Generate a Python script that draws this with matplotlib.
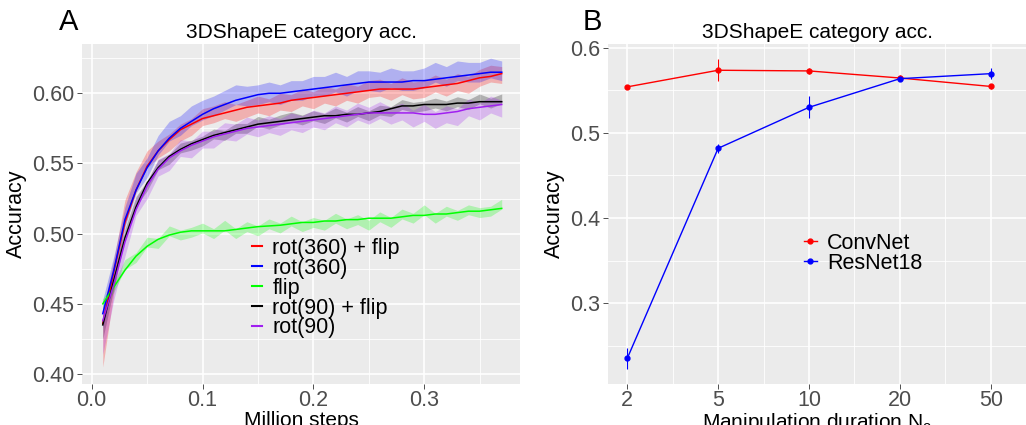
import numpy as np
import matplotlib
matplotlib.use('Agg')
import matplotlib.pyplot as plt
from matplotlib.lines import Line2D

# ---- panel A data: training curves (raw means, se, smooth fit) ----
steps = [0.01, 0.02, 0.03, 0.04, 0.05, 0.06, 0.07, 0.08, 0.09, 0.10,
         0.11, 0.12, 0.13, 0.14, 0.15, 0.16, 0.17, 0.18, 0.19, 0.20,
         0.21, 0.22, 0.23, 0.24, 0.25, 0.26, 0.27, 0.28, 0.29, 0.30,
         0.31, 0.32, 0.33, 0.34, 0.35, 0.36, 0.37]

rot360flip_mean = [0.425, 0.470, 0.515, 0.537, 0.553, 0.560, 0.565, 0.572, 0.576, 0.583,
                   0.585, 0.588, 0.586, 0.589, 0.592, 0.590, 0.594, 0.593, 0.597, 0.595,
                   0.599, 0.597, 0.601, 0.599, 0.603, 0.604, 0.601, 0.605, 0.602, 0.603,
                   0.607, 0.604, 0.608, 0.606, 0.611, 0.614, 0.613]
rot360flip_se = [0.020, 0.012, 0.009, 0.007] + [0.006] * 33
rot360flip_fit = [0.436, 0.473, 0.508, 0.531, 0.548, 0.559, 0.567, 0.574, 0.578, 0.582,
                  0.584, 0.586, 0.588, 0.590, 0.591, 0.592, 0.593, 0.595, 0.596, 0.597,
                  0.598, 0.599, 0.600, 0.601, 0.602, 0.603, 0.603, 0.603, 0.603, 0.604,
                  0.605, 0.606, 0.607, 0.609, 0.611, 0.612, 0.614]

rot360_mean = [0.443, 0.475, 0.512, 0.536, 0.547, 0.563, 0.573, 0.577, 0.584, 0.588,
               0.591, 0.595, 0.599, 0.598, 0.599, 0.601, 0.599, 0.602, 0.602, 0.605,
               0.605, 0.608, 0.605, 0.609, 0.609, 0.608, 0.611, 0.609, 0.609, 0.611,
               0.615, 0.612, 0.616, 0.615, 0.615, 0.618, 0.616]
rot360_se = [0.010, 0.009] + [0.007] * 35
rot360_fit = [0.443, 0.474, 0.510, 0.531, 0.547, 0.559, 0.568, 0.575, 0.580, 0.585,
              0.589, 0.592, 0.595, 0.597, 0.599, 0.600, 0.600, 0.601, 0.602, 0.603,
              0.604, 0.605, 0.606, 0.607, 0.608, 0.608, 0.608, 0.608, 0.609, 0.609,
              0.610, 0.611, 0.612, 0.613, 0.614, 0.615, 0.615]

flip_mean = [0.450, 0.462, 0.478, 0.483, 0.494, 0.493, 0.502, 0.499, 0.501, 0.504,
             0.500, 0.506, 0.500, 0.505, 0.502, 0.507, 0.504, 0.509, 0.505, 0.508,
             0.506, 0.511, 0.507, 0.510, 0.506, 0.512, 0.508, 0.514, 0.511, 0.517,
             0.511, 0.516, 0.513, 0.517, 0.515, 0.516, 0.521]
flip_se = [0.0035] * 37
flip_fit = [0.450, 0.462, 0.474, 0.484, 0.491, 0.496, 0.499, 0.501, 0.502, 0.502,
            0.502, 0.502, 0.503, 0.504, 0.505, 0.5055, 0.506, 0.507, 0.508, 0.508,
            0.509, 0.509, 0.510, 0.510, 0.511, 0.511, 0.511, 0.512, 0.513, 0.513,
            0.514, 0.514, 0.515, 0.516, 0.516, 0.517, 0.518]

rot90flip_mean = [0.433, 0.466, 0.500, 0.523, 0.534, 0.549, 0.553, 0.561, 0.563, 0.566,
                  0.571, 0.570, 0.575, 0.575, 0.580, 0.578, 0.581, 0.583, 0.581, 0.584,
                  0.582, 0.586, 0.583, 0.587, 0.584, 0.588, 0.587, 0.592, 0.590, 0.591,
                  0.593, 0.591, 0.594, 0.592, 0.596, 0.593, 0.596]
rot90flip_se = [0.008, 0.005] + [0.0035] * 35
rot90flip_fit = [0.435, 0.467, 0.497, 0.519, 0.536, 0.547, 0.555, 0.560, 0.564, 0.567,
                 0.570, 0.572, 0.574, 0.576, 0.578, 0.579, 0.580, 0.581, 0.582, 0.583,
                 0.584, 0.584, 0.585, 0.585, 0.586, 0.587, 0.589, 0.591, 0.591, 0.592,
                 0.592, 0.592, 0.593, 0.593, 0.594, 0.594, 0.594]

rot90_mean = [0.430, 0.462, 0.491, 0.519, 0.531, 0.547, 0.551, 0.561, 0.560, 0.567,
              0.567, 0.573, 0.572, 0.577, 0.575, 0.578, 0.576, 0.580, 0.578, 0.582,
              0.580, 0.585, 0.582, 0.587, 0.584, 0.588, 0.584, 0.587, 0.582, 0.586,
              0.581, 0.585, 0.583, 0.590, 0.587, 0.592, 0.589]
rot90_se = [0.016, 0.009, 0.007] + [0.006] * 34
rot90_fit = [0.438, 0.464, 0.494, 0.517, 0.534, 0.546, 0.554, 0.559, 0.563, 0.566,
             0.569, 0.571, 0.573, 0.575, 0.576, 0.577, 0.578, 0.579, 0.580, 0.581,
             0.582, 0.583, 0.584, 0.585, 0.586, 0.586, 0.586, 0.586, 0.586, 0.585,
             0.585, 0.586, 0.587, 0.589, 0.590, 0.591, 0.592]

series_names = ['rot(360) + flip', 'rot(360)', 'flip', 'rot(90) + flip', 'rot(90)']
series_colors = ['#FF0000', '#0000FF', '#00FF00', '#000000', '#A020F0']

# ---- panel B data ----
durations = ['2', '5', '10', '20', '50']
convnet_acc = [0.554, 0.5735, 0.5727, 0.5644, 0.5545]
convnet_err = [0.002, 0.0128, 0.0035, 0.003, 0.003]
resnet_acc = [0.2354, 0.4819, 0.530, 0.5636, 0.5695]
resnet_err = [0.0127, 0.005, 0.0127, 0.003, 0.0066]

plt.rcParams.update({
    'font.family': ['Liberation Sans', 'DejaVu Sans'],
    'font.size': 15,
    'mathtext.fontset': 'custom',
    'mathtext.rm': 'Liberation Sans',
})

BG = '#EBEBEB'
TICKC = '#4D4D4D'

def theme_gray(ax):
    ax.set_facecolor(BG)
    for s in ax.spines.values():
        s.set_visible(False)
    ax.grid(True, which='major', color='white', lw=1.2)
    ax.grid(True, which='minor', color='white', lw=0.6)
    ax.set_axisbelow(True)
    ax.tick_params(which='major', length=3.5, width=0.6, color='#333333',
                   labelcolor=TICKC, labelsize=15.5, pad=2)
    ax.tick_params(axis='x', which='major', pad=1)
    ax.tick_params(which='minor', length=0)

fig = plt.figure(figsize=(10.26, 4.25), dpi=100)
axA = fig.add_axes([82 / 1026, 1 - 384 / 425, 438 / 1026, 340 / 425])
axB = fig.add_axes([608 / 1026, 1 - 384 / 425, 418 / 1026, 340 / 425])

# ---- panel A ----
theme_gray(axA)
x = np.array(steps)
data = [
    (rot360flip_mean, rot360flip_se, rot360flip_fit),
    (rot360_mean, rot360_se, rot360_fit),
    (flip_mean, flip_se, flip_fit),
    (rot90flip_mean, rot90flip_se, rot90flip_fit),
    (rot90_mean, rot90_se, rot90_fit),
]
for (m, se, fit), c in zip(data, series_colors):
    m = np.array(m); se = np.array(se)
    axA.fill_between(x, m - se, m + se, color=c, alpha=0.25, lw=0)
handles = []
for (m, se, fit), c, name in zip(data, series_colors, series_names):
    ln, = axA.plot(x, fit, color=c, lw=1.1, label=name)
    handles.append(ln)

axA.set_xlim(-0.00875, 0.3865)
axA.set_ylim(0.3929, 0.6351)
axA.set_xticks([0.0, 0.1, 0.2, 0.3])
axA.set_xticklabels(['0.0', '0.1', '0.2', '0.3'])
axA.set_xticks([0.05, 0.15, 0.25, 0.35], minor=True)
axA.set_yticks([0.40, 0.45, 0.50, 0.55, 0.60])
axA.set_yticklabels(['0.40', '0.45', '0.50', '0.55', '0.60'])
axA.set_yticks([0.425, 0.475, 0.525, 0.575, 0.625], minor=True)
axA.set_xlabel('Million steps', fontsize=15, labelpad=0)
axA.set_ylabel('Accuracy', fontsize=15.5, labelpad=4)
axA.set_title('3DShapeE category acc.', fontsize=15, pad=4)
legA = axA.legend(handles=handles, loc='upper left', bbox_to_anchor=(0.388, 0.43),
                  frameon=False, fontsize=15.5, handlelength=0.45, handletextpad=0.5,
                  labelspacing=-0.05, borderpad=0, borderaxespad=0)
for h in legA.legend_handles:
    h.set_linewidth(1.5)

# ---- panel B ----
theme_gray(axB)
pos = np.arange(1, len(durations) + 1)
axB.errorbar(pos, convnet_acc, yerr=convnet_err, color='#FF0000', lw=1.0,
             elinewidth=0.8, marker='o', ms=3.5, capsize=0)
axB.errorbar(pos, resnet_acc, yerr=resnet_err, color='#0000FF', lw=1.0,
             elinewidth=0.8, marker='o', ms=3.5, capsize=0)
axB.set_xlim(0.788, 5.388)
axB.set_ylim(0.2053, 0.6043)
axB.set_xticks(pos)
axB.set_xticklabels(durations)
axB.set_xticks(pos[:-1] + 0.5, minor=True)
axB.set_yticks([0.3, 0.4, 0.5, 0.6])
axB.set_yticklabels(['0.3', '0.4', '0.5', '0.6'])
axB.set_yticks([0.25, 0.35, 0.45, 0.55], minor=True)
axB.set_xlabel(r'Manipulation duration $\mathregular{N_o}$', fontsize=15, labelpad=0)
axB.set_ylabel('Accuracy', fontsize=15.5, labelpad=4)
axB.set_title('3DShapeE category acc.', fontsize=15, pad=4)
hB = [Line2D([], [], color='#FF0000', marker='o', ms=3.5, lw=1.0, label='ConvNet'),
      Line2D([], [], color='#0000FF', marker='o', ms=3.5, lw=1.0, label='ResNet18')]
axB.legend(handles=hB, loc='upper left', bbox_to_anchor=(0.468, 0.445),
           frameon=False, fontsize=15.5, handlelength=0.6, handletextpad=0.5,
           labelspacing=-0.05, borderpad=0, borderaxespad=0)

fig.text(59 / 1026, 1 - 8 / 425, 'A', fontsize=21, ha='left', va='top')
fig.text(583 / 1026, 1 - 8 / 425, 'B', fontsize=21, ha='left', va='top')

fig.savefig('out.png', dpi=100)
